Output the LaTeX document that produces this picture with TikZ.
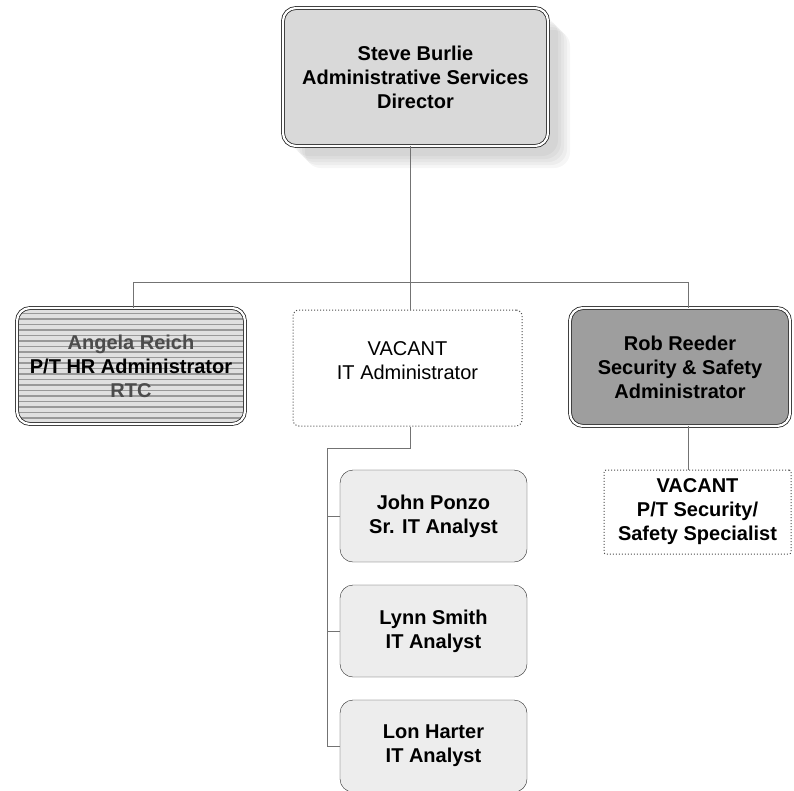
\documentclass[tikz,border=0pt]{standalone}
\usepackage{fontspec}
\setmainfont{Liberation Sans}
\usetikzlibrary{calc}
\begin{document}
\begin{tikzpicture}[x=1pt,y=-1pt,
  every node/.style={align=center,font=\fontsize{20}{24}\selectfont\bfseries},
  box/.style={draw=black!85,rounded corners=13pt,inner sep=0pt},
  dbl/.style={box,double=white,double distance=2.2pt,line width=0.8pt},
  vac/.style={draw=black!70,dotted,line width=1pt,rounded corners=6pt,inner sep=0pt},
  conn/.style={draw=black!55,line width=0.9pt},
  stripes/.style={path picture={
     \foreach \i in {0,...,22}{
       \draw[black!40,line width=1.2pt] ([yshift=-\i*5.5pt]path picture bounding box.north west) -- ([yshift=-\i*5.5pt]path picture bounding box.north east);}}}
]
\useasboundingbox (0,0) rectangle (794,790);
% shadow of top box
\foreach \o in {22,19,16,13,10}{
  \fill[black,opacity=0.035,rounded corners=16pt] (283+\o,8+\o) rectangle (548+\o,146+\o);}
\node[dbl,fill=black!15,minimum width=265pt,minimum height=138pt] (top) at (415.5,77) {Steve Burlie\\Administrative Services\\Director};
\node[dbl,fill=black!12,stripes,text=black!70,minimum width=228pt,minimum height=116pt] (hr) at (131,366) {Angela Reich\\\textcolor{black}{P/T HR Administrator}\\RTC};
\node[vac,font=\fontsize{20}{24}\selectfont,text depth=14pt,minimum width=229pt,minimum height=116pt] (itadm) at (407.5,368) {VACANT\\IT Administrator};
\node[dbl,fill=black!38,minimum width=220pt,minimum height=118pt] (rob) at (680,367) {Rob Reeder\\Security \& Safety\\Administrator};
\node[vac,rounded corners=2pt,minimum width=187pt,minimum height=84pt] (sec) at (697.5,512) {VACANT\\P/T Security/\\Safety Specialist};
\node[box,fill=black!7,minimum width=187pt,minimum height=92pt] (a1) at (433.5,516) {John Ponzo\\Sr. IT Analyst};
\node[box,fill=black!7,minimum width=187pt,minimum height=92pt] (a2) at (433.5,631) {Lynn Smith\\IT Analyst};
\node[box,fill=black!7,minimum width=187pt,minimum height=92pt] (a3) at (433.5,746) {Lon Harter\\IT Analyst};
% junctions
\coordinate (jm) at (410,282);
\coordinate (jl) at (133,282);
\coordinate (jr) at (688,282);
\coordinate (jit) at (410,448);
\coordinate (jv) at (327,448);
% connectors
\draw[conn] (top.south -| jm) -- (jm);
\draw[conn] (jl) -- (jr);
\draw[conn] (jl) -- (jl |- hr.north);
\draw[conn] (jm) -- (jm |- itadm.north);
\draw[conn] (jr) -- (jr |- rob.north);
\draw[conn] (rob.south -| jr) -- (jr |- sec.north);
\draw[conn] (itadm.south -| jit) -- (jit) -- (jv) -- (jv |- a3.west);
\draw[conn] (jv |- a1.west) -- (a1.west);
\draw[conn] (jv |- a2.west) -- (a2.west);
\draw[conn] (jv |- a3.west) -- (a3.west);
\end{tikzpicture}
\end{document}
